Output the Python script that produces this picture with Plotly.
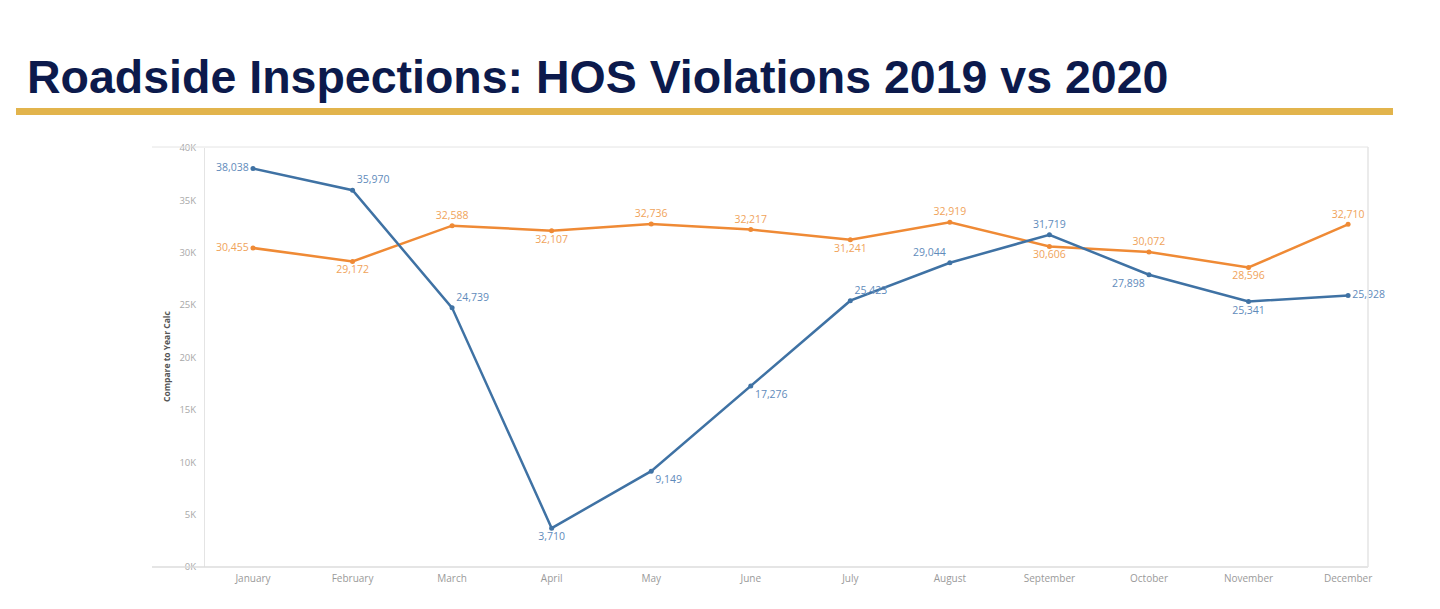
import plotly.graph_objects as go

months = ["January", "February", "March", "April", "May", "June", "July",
          "August", "September", "October", "November", "December"]
hos_2020 = [38038, 35970, 24739, 3710, 9149, 17276, 25423, 29044, 31719, 27898, 25341, 25928]
hos_2019 = [30455, 29172, 32588, 32107, 32736, 32217, 31241, 32919, 30606, 30072, 28596, 32710]
pos_2020 = ["middle left", "top right", "top right", "bottom center", "bottom right", "bottom right",
            "top right", "top left", "top center", "bottom left", "bottom center", "middle right"]
pos_2019 = ["middle left", "bottom center", "top center", "bottom center", "top center", "top center",
            "bottom center", "top center", "bottom center", "top center", "bottom center", "top center"]
tick_vals = [0, 5000, 10000, 15000, 20000, 25000, 30000, 35000, 40000]
tick_text = ["0K", "5K", "10K", "15K", "20K", "25K", "30K", "35K", "40K"]

title_text = "Roadside Inspections: HOS Violations 2019 vs 2020"
y_title = "Compare to Year Calc"

W, H = 1440, 609
def px(x): return x / W
def py(y): return (H - y) / H

BLUE = "#3f72a4"
BLUE_LBL = "#5f8bbb"
ORANGE = "#ef8a35"
ORANGE_LBL = "#f0a35a"
LBL_FONT = "Open Sans"

fig = go.Figure()
fig.add_trace(go.Scatter(
    x=months, y=hos_2019, mode="lines+markers+text", name="2019",
    line=dict(color=ORANGE, width=2.5), marker=dict(size=5, color=ORANGE),
    text=[f"{v:,}" for v in hos_2019], textposition=pos_2019,
    textfont=dict(color=ORANGE_LBL, size=10.5, family=LBL_FONT),
    cliponaxis=False,
))
fig.add_trace(go.Scatter(
    x=months, y=hos_2020, mode="lines+markers+text", name="2020",
    line=dict(color=BLUE, width=2.5), marker=dict(size=5, color=BLUE),
    text=[f"{v:,}" for v in hos_2020], textposition=pos_2020,
    textfont=dict(color=BLUE_LBL, size=10.5, family=LBL_FONT),
    cliponaxis=False,
))

fig.update_layout(
    width=W, height=H, margin=dict(l=0, r=0, t=0, b=0, pad=0),
    paper_bgcolor="white", plot_bgcolor="white", showlegend=False,
    xaxis=dict(domain=[px(205), px(1368)], type="category", range=[-0.482, 11.2],
               automargin=False,
               showgrid=False, showline=False, zeroline=False, ticks="", ticklabelstandoff=4,
               tickfont=dict(size=10, color="#9a9a9a", family=LBL_FONT)),
    yaxis=dict(domain=[py(567), py(148)], range=[0, 40000], tickvals=tick_vals, ticktext=tick_text,
               automargin=False,
               showgrid=False, showline=True, linecolor="#e4e4e4", linewidth=1, zeroline=False,
               ticks="", ticklabelstandoff=6,
               tickfont=dict(size=9.5, color="#a8a8a8", family=LBL_FONT)),
)

# frame lines
shapes = [
    dict(type="line", xref="paper", yref="paper", x0=px(152), x1=px(1368), y0=py(147), y1=py(147),
         line=dict(color="#e4e4e4", width=1)),
    dict(type="line", xref="paper", yref="paper", x0=px(152), x1=px(1368), y0=py(567), y1=py(567),
         line=dict(color="#dcdcdc", width=1.5)),
    dict(type="line", xref="paper", yref="paper", x0=px(1368), x1=px(1368), y0=py(147), y1=py(567),
         line=dict(color="#e4e4e4", width=1.5)),
    dict(type="rect", xref="paper", yref="paper", x0=px(16), x1=px(1393), y0=py(115), y1=py(108),
         fillcolor="#e2b44c", line=dict(width=0)),
]
fig.update_layout(shapes=shapes)

fig.add_annotation(text=title_text, xref="paper", yref="paper", x=px(25), y=py(77),
                   xanchor="left", yanchor="middle", showarrow=False,
                   font=dict(family="Liberation Sans, Arial", size=46.5, color="#0c1a4c", weight="bold"))
fig.add_annotation(text=y_title, xref="paper", yref="paper", x=px(166), y=py(357),
                   xanchor="center", yanchor="middle", showarrow=False, textangle=-90,
                   font=dict(family=LBL_FONT, size=8.5, color="#555555", weight="bold"))

fig.write_html("out.html", config={"displayModeBar": False},
               post_script="document.body.style.margin='0px';document.body.style.overflow='hidden';")
